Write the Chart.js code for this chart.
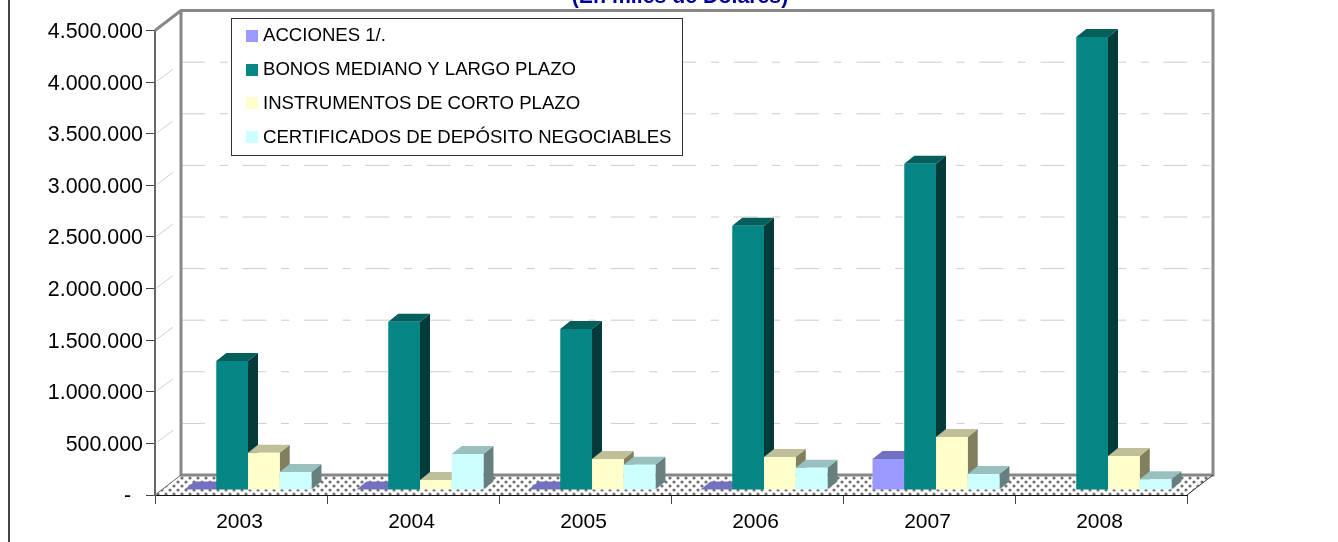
<!DOCTYPE html>
<html>
<head>
<meta charset="utf-8">
<title>Chart</title>
<script src="https://cdn.jsdelivr.net/npm/chart.js@4/dist/chart.umd.min.js"></script>
<style>
    html, body { margin: 0; padding: 0; background: #fff; overflow: hidden; }
    #wrap { width: 1338px; height: 542px; }
</style>
</head>
<body>
<div id="wrap"><canvas id="chart"></canvas></div>
<script>
const years = ["2003", "2004", "2005", "2006", "2007", "2008"];
const yTickLabels = ["-  ", "500.000", "1.000.000", "1.500.000", "2.000.000", "2.500.000", "3.000.000", "3.500.000", "4.000.000", "4.500.000"];

const acciones = [5000, 5000, 5000, 5000, 300000, 0];
const bonos = [1250000, 1630000, 1560000, 2560000, 3160000, 4390000];
const instrumentos = [360000, 97000, 300000, 320000, 514000, 330000];
const certificados = [175000, 350000, 245000, 215000, 155000, 105000];

const seriesNames = ["ACCIONES 1/.", "BONOS MEDIANO Y LARGO PLAZO", "INSTRUMENTOS DE CORTO PLAZO", "CERTIFICADOS DE DEPÓSITO NEGOCIABLES"];
const seriesColors = ["#9999ff", "#058583", "#ffffcc", "#ccffff"];
const topColors = ["#7370bf", "#045f5c", "#bfbf99", "#99bfbf"];
const sideColors = ["#5c5c99", "#033b3b", "#80805f", "#668080"];

// offsets of the fake 3D
const wallX = 26, wallY = -20;
const barX = 7, barY = -5;
const depthX = 10, depthY = -8;

function dotPattern(ctx) {
    const c = document.createElement("canvas");
    c.width = 8;
    c.height = 8;
    const p = c.getContext("2d");
    p.fillStyle = "#fff";
    p.fillRect(0, 0, 8, 8);
    p.fillStyle = "#707070";
    p.beginPath();
    p.arc(2, 2, 1.6, 0, Math.PI * 2);
    p.arc(6, 6, 1.6, 0, Math.PI * 2);
    p.fill();
    return ctx.createPattern(c, "repeat");
}

function poly(ctx, pts, fill) {
    ctx.beginPath();
    pts.forEach((p, i) => i ? ctx.lineTo(p[0], p[1]) : ctx.moveTo(p[0], p[1]));
    ctx.closePath();
    ctx.fillStyle = fill;
    ctx.fill();
}

// WALLS, FLOOR AND GRID
const wallsPlugin = {
    id: "wallsPlugin",
    beforeDatasetsDraw(chart) {
        const { ctx, chartArea: a, scales } = chart;
        ctx.save();

        // page edge line on the left
        ctx.strokeStyle = "#444";
        ctx.lineWidth = 2;
        ctx.beginPath();
        ctx.moveTo(9, 0);
        ctx.lineTo(9, 542);
        ctx.stroke();

        poly(ctx, [[a.left, a.bottom], [a.left + wallX, a.bottom + wallY], [a.right + wallX, a.bottom + wallY], [a.right, a.bottom]], dotPattern(ctx));

        // grid lines
        scales.y.ticks.forEach((t) => {
            if (t.value === 0 || t.value >= 4500000) return;
            const y = scales.y.getPixelForValue(t.value);
            ctx.strokeStyle = "#cccccc";
            ctx.lineWidth = 1;
            ctx.setLineDash([24, 14.7, 8, 14.7]);
            ctx.beginPath();
            ctx.moveTo(a.left + wallX, y + wallY);
            ctx.lineTo(a.right + wallX, y + wallY);
            ctx.stroke();
            ctx.setLineDash([]);
            ctx.strokeStyle = "#d0d0d0";
            ctx.beginPath();
            ctx.moveTo(a.left + 2, y - 1);
            ctx.lineTo(a.left + 18, y - 13);
            ctx.stroke();
        });

        // wall frame
        ctx.strokeStyle = "#888";
        ctx.lineWidth = 3;
        ctx.beginPath();
        ctx.moveTo(a.left, a.top);
        ctx.lineTo(a.left + wallX, a.top + wallY);
        ctx.lineTo(a.right + wallX, a.top + wallY);
        ctx.lineTo(a.right + wallX, a.bottom + wallY);
        ctx.lineTo(a.left + wallX, a.bottom + wallY);
        ctx.lineTo(a.left + wallX, a.top + wallY);
        ctx.stroke();

        // outer floor edges
        ctx.strokeStyle = "#333";
        ctx.lineWidth = 1;
        ctx.beginPath();
        ctx.moveTo(a.right, a.bottom);
        ctx.lineTo(a.right + wallX, a.bottom + wallY);
        ctx.stroke();
        ctx.strokeStyle = "#666";
        ctx.beginPath();
        ctx.moveTo(a.left, a.bottom);
        ctx.lineTo(a.left + wallX, a.bottom + wallY);
        ctx.stroke();
        ctx.restore();
    }
};

// BARS PAINTED LEFT TO RIGHT SO THE FRONT OF ONE COVERS THE SIDE OF THE LAST
const depthPlugin = {
    id: "depthPlugin",
    beforeDatasetsDraw(chart) {
        const { ctx } = chart;
        ctx.save();
        ctx.translate(barX, barY);
        chart.data.datasets.forEach((ds, i) => {
            chart.getDatasetMeta(i).data.forEach((bar, k) => {
                if (ds.data[k] <= 0) return;
                const l = bar.x - bar.width / 2;
                const r = bar.x + bar.width / 2;
                poly(ctx, [[r, bar.y], [r + depthX, bar.y + depthY], [r + depthX, bar.base + depthY], [r, bar.base]], sideColors[i]);
                poly(ctx, [[l, bar.y], [l + depthX, bar.y + depthY], [r + depthX, bar.y + depthY], [r, bar.y]], topColors[i]);
                bar.draw(ctx);
            });
        });
        ctx.restore();
    },
    // already painted above
    beforeDatasetDraw() {
        return false;
    }
};

// LEGEND BOX OVER THE WALL
const legendBoxPlugin = {
    id: "legendBoxPlugin",
    afterDatasetsDraw(chart) {
        const { ctx } = chart;
        ctx.save();
        ctx.fillStyle = "#fff";
        ctx.fillRect(231, 18, 451, 137);
        ctx.strokeStyle = "#333";
        ctx.lineWidth = 1;
        ctx.strokeRect(231.5, 18.5, 451, 137);
        ctx.font = "18.6px 'Liberation Sans'";
        ctx.textBaseline = "middle";
        seriesNames.forEach((name, i) => {
            ctx.fillStyle = seriesColors[i];
            ctx.fillRect(246, 30 + Math.round(i * 33.7), 12, 12);
            ctx.fillStyle = "#000";
            ctx.fillText(name, 263, 35.5 + i * 34);
        });
        ctx.restore();
    }
};

const allSeries = [acciones, bonos, instrumentos, certificados];

new Chart(document.getElementById("chart"), {
    type: "bar",
    data: {
        labels: years,
        datasets: allSeries.map((values, i) => ({
            label: seriesNames[i],
            data: values,
            backgroundColor: seriesColors[i],
            borderWidth: 0,
            clip: false,
            categoryPercentage: 0.738,
            barPercentage: 1
        }))
    },
    options: {
        responsive: true,
        maintainAspectRatio: false,
        animation: false,
        // left padding + empty right axis keep the title centred on x=680
        layout: { padding: { left: 22, right: 0, top: 0, bottom: 0 } },
        plugins: {
            legend: { display: false },
            tooltip: { enabled: false },
            title: {
                display: true,
                text: "(En miles de Dólares)",
                color: "#000099",
                font: { family: "'Liberation Sans'", size: 21.3, weight: "bold" },
                padding: { top: -16, bottom: 21 }
            }
        },
        scales: {
            x: {
                grid: { drawOnChartArea: false, drawTicks: true, tickLength: 9, color: "#444", lineWidth: 1 },
                border: { color: "#111", width: 2 },
                ticks: { color: "#000", font: { family: "'Liberation Sans'", size: 21 }, padding: 6, maxRotation: 0, labelOffset: -1.5 },
                afterFit(scale) { scale.height = 47; }
            },
            y: {
                min: 0,
                max: 4500000,
                grid: { drawOnChartArea: false, drawTicks: true, tickLength: 9, color: "#444", lineWidth: 1 },
                border: { color: "#666", width: 2 },
                ticks: {
                    stepSize: 500000,
                    color: "#000",
                    font: { family: "'Liberation Sans'", size: 21.4 },
                    padding: 3,
                    labelOffset: 1.5,
                    callback: (value, i) => yTickLabels[i]
                },
                afterFit(scale) { scale.width = 133; }
            },
            spacer: {
                position: "right",
                min: 0,
                max: 1,
                grid: { display: false },
                border: { display: false },
                ticks: { display: false },
                afterFit(scale) { scale.width = 151; }
            }
        }
    },
    plugins: [wallsPlugin, depthPlugin, legendBoxPlugin]
});
</script>
</body>
</html>
